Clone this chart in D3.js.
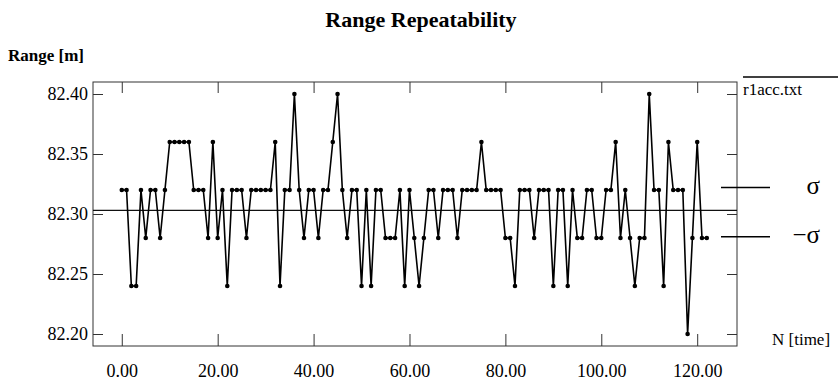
<!DOCTYPE html>
<html>
<head>
<meta charset="utf-8">
<script src="https://cdnjs.cloudflare.com/ajax/libs/d3/7.8.5/d3.min.js"></script>
<style>
  html, body { margin: 0; padding: 0; background: #fff; }
  svg { display: block; }
  text { font-family: "Liberation Serif", "Times New Roman", serif; fill: #000; }
</style>
</head>
<body>
<svg id="chart" width="839" height="380"></svg>
<script>
// ---- data ----
const rangeValues = [
  82.32, 82.32, 82.24, 82.24, 82.32, 82.28, 82.32, 82.32, 82.28, 82.32,
  82.36, 82.36, 82.36, 82.36, 82.36, 82.32, 82.32, 82.32, 82.28, 82.36,
  82.28, 82.32, 82.24, 82.32, 82.32, 82.32, 82.28, 82.32, 82.32, 82.32,
  82.32, 82.32, 82.36, 82.24, 82.32, 82.32, 82.40, 82.32, 82.28, 82.32,
  82.32, 82.28, 82.32, 82.32, 82.36, 82.40, 82.32, 82.28, 82.32, 82.32,
  82.24, 82.32, 82.24, 82.32, 82.32, 82.28, 82.28, 82.28, 82.32, 82.24,
  82.32, 82.28, 82.24, 82.28, 82.32, 82.32, 82.28, 82.32, 82.32, 82.32,
  82.28, 82.32, 82.32, 82.32, 82.32, 82.36, 82.32, 82.32, 82.32, 82.32,
  82.28, 82.28, 82.24, 82.32, 82.32, 82.32, 82.28, 82.32, 82.32, 82.32,
  82.24, 82.32, 82.32, 82.24, 82.32, 82.28, 82.28, 82.32, 82.32, 82.28,
  82.28, 82.32, 82.32, 82.36, 82.28, 82.32, 82.28, 82.24, 82.28, 82.28,
  82.40, 82.32, 82.32, 82.24, 82.36, 82.32, 82.32, 82.32, 82.20, 82.28,
  82.36, 82.28, 82.28
];
const xTickValues = [0, 20, 40, 60, 80, 100, 120];
const yTickValues = [82.20, 82.25, 82.30, 82.35, 82.40];
const meanValue = 82.303;
const sigmaValues = [82.322, 82.281];   // +sigma, -sigma
const sigmaLabels = ["σ", "−σ"];
const titleText = "Range Repeatability";
const yAxisTitle = "Range [m]";
const xAxisTitle = "N [time]";
const legendText = "r1acc.txt";

// ---- layout ----
const svg = d3.select("#chart");
const frame = { left: 93, right: 737, top: 82, bottom: 346 };

const x = d3.scaleLinear().domain([-6, 128.3]).range([frame.left, frame.right]);
const y = d3.scaleLinear().domain([82.19, 82.41]).range([frame.bottom, frame.top]);

const points = rangeValues.map((v, i) => ({ n: i, v }));

// title
svg.append("text")
  .attr("x", 421).attr("y", 27)
  .attr("text-anchor", "middle")
  .style("font-size", "22px").style("font-weight", "bold")
  .text(titleText);

// y axis title
svg.append("text")
  .attr("x", 8).attr("y", 61)
  .style("font-size", "17px").style("font-weight", "bold")
  .text(yAxisTitle);

// x axis title
svg.append("text")
  .attr("x", 772).attr("y", 345)
  .style("font-size", "17px")
  .text(xAxisTitle);

// frame
svg.append("rect")
  .attr("x", frame.left).attr("y", frame.top)
  .attr("width", frame.right - frame.left).attr("height", frame.bottom - frame.top)
  .attr("fill", "none").attr("stroke", "#333").attr("stroke-width", 1);

const fmt = d3.format(".2f");

// axes
const gLeft = svg.append("g").attr("transform", `translate(${frame.left},0)`)
  .call(d3.axisLeft(y).tickValues(yTickValues).tickSizeInner(-10).tickSizeOuter(0).tickPadding(5).tickFormat(fmt));
const gRight = svg.append("g").attr("transform", `translate(${frame.right},0)`)
  .call(d3.axisRight(y).tickValues(yTickValues).tickSizeInner(-10).tickSizeOuter(0).tickFormat(""));
const gBottom = svg.append("g").attr("transform", `translate(0,${frame.bottom})`)
  .call(d3.axisBottom(x).tickValues(xTickValues).tickSizeInner(-12).tickSizeOuter(0).tickPadding(18).tickFormat(fmt));
const gTop = svg.append("g").attr("transform", `translate(0,${frame.top})`)
  .call(d3.axisTop(x).tickValues(xTickValues).tickSizeInner(-11).tickSizeOuter(0).tickFormat(""));

[gLeft, gRight, gBottom, gTop].forEach(g => {
  g.select(".domain").remove();
  g.selectAll(".tick line").attr("stroke", "#333");
  g.selectAll("text").style("font-size", "18px").attr("font-family", null).attr("fill", "#000");
});

// mean line
svg.append("line")
  .attr("x1", frame.left).attr("x2", frame.right)
  .attr("y1", y(meanValue)).attr("y2", y(meanValue))
  .attr("stroke", "#111").attr("stroke-width", 1.2);

// sigma markers
sigmaValues.forEach((s, i) => {
  svg.append("line")
    .attr("x1", 721).attr("x2", 770)
    .attr("y1", y(s)).attr("y2", y(s))
    .attr("stroke", "#000").attr("stroke-width", 1.5);
  svg.append("text")
    .attr("x", 820).attr("y", y(s))
    .attr("dy", "0.25em")
    .attr("text-anchor", "end")
    .style("font-size", "25px")
    .text(sigmaLabels[i]);
});

// legend
svg.append("line")
  .attr("x1", 743).attr("x2", 838).attr("y1", 77).attr("y2", 77)
  .attr("stroke", "#000").attr("stroke-width", 1.5);
svg.append("text")
  .attr("x", 743).attr("y", 95)
  .style("font-size", "17px")
  .text(legendText);

// data line
svg.append("path")
  .datum(points)
  .attr("fill", "none").attr("stroke", "#000").attr("stroke-width", 1.6)
  .attr("stroke-linejoin", "round")
  .attr("d", d3.line().x(d => x(d.n)).y(d => y(d.v)));

svg.append("g").selectAll("circle")
  .data(points).join("circle")
  .attr("cx", d => x(d.n)).attr("cy", d => y(d.v)).attr("r", 2.3)
  .attr("fill", "#000");
</script>
</body>
</html>
